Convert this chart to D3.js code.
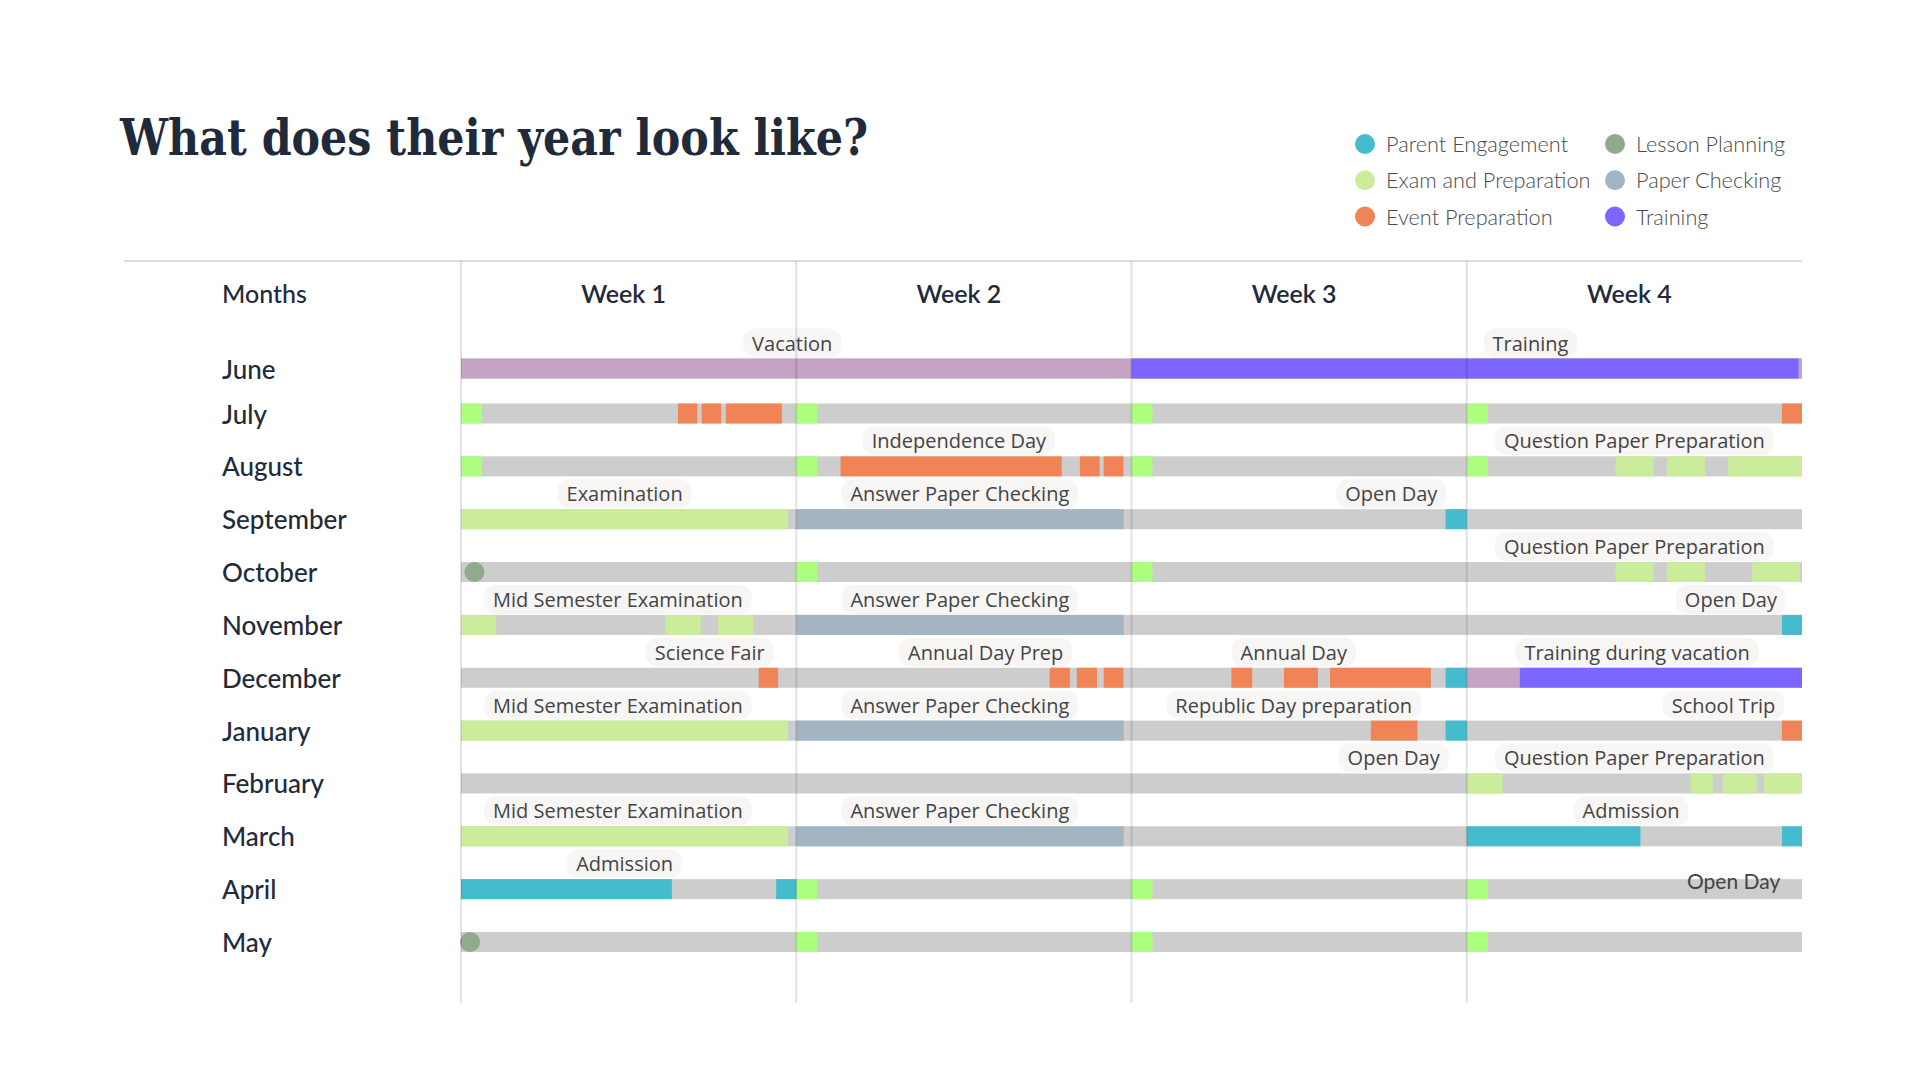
<!DOCTYPE html>
<html>
<head>
<meta charset="utf-8">
<script src="https://cdn.jsdelivr.net/npm/d3@7"></script>
<style>
  html, body { margin: 0; padding: 0; background: #ffffff; }
  svg { display: block; }
</style>
</head>
<body>
<svg id="chart" width="1920" height="1080"></svg>
<script>
// ---------------- DATA ----------------
const months = ["June","July","August","September","October","November","December","January","February","March","April","May"];
const weeks = ["Week 1","Week 2","Week 3","Week 4"];

const legendCol1 = ["Parent Engagement","Exam and Preparation","Event Preparation"];
const legendCol2 = ["Lesson Planning","Paper Checking","Training"];

// segments: [month, startWeek, endWeek]  (week units, 0..4)
const vacationSegs = [["June",0,4],["December",3.0,3.158]];
const trainingSegs = [["June",2.0,3.99],["December",3.158,4.0]];
const weeklySegs = [
  ["July",0,0.0625],["July",1,1.0625],["July",2,2.0625],["July",3,3.0625],
  ["August",0,0.0625],["August",1,1.0625],["August",2,2.0625],["August",3,3.0625],
  ["October",1,1.0625],["October",2,2.0625],
  ["April",1,1.0625],["April",2,2.0625],["April",3,3.0625],
  ["May",1,1.0625],["May",2,2.0625],["May",3,3.0625]
];
const eventSegs = [
  ["July",0.647,0.705],["July",0.718,0.776],["July",0.790,0.957],["July",3.94,4.0],
  ["August",1.132,1.792],["August",1.846,1.905],["August",1.917,1.976],
  ["December",0.888,0.946],["December",1.756,1.816],["December",1.837,1.897],["December",1.917,1.976],
  ["December",2.298,2.360],["December",2.455,2.556],["December",2.592,2.893],
  ["January",2.714,2.853],["January",3.94,4.0]
];
const examSegs = [
  ["August",3.444,3.558],["August",3.597,3.711],["August",3.78,4.0],
  ["September",0,0.975],
  ["October",3.444,3.558],["October",3.597,3.711],["October",3.852,3.993],
  ["November",0,0.105],["November",0.609,0.715],["November",0.767,0.872],
  ["January",0,0.975],
  ["February",3.0,3.107],["February",3.668,3.734],["February",3.763,3.865],["February",3.886,4.0],
  ["March",0,0.975]
];
const paperSegs = [["September",1.0,1.977],["November",1.0,1.977],["January",1.0,1.977],["March",1.0,1.977]];
const parentSegs = [
  ["September",2.937,3.0],["November",3.94,4.0],["December",2.937,3.0],["January",2.937,3.0],
  ["March",3.0,3.518],["March",3.94,4.0],
  ["April",0,0.629],["April",0.940,1.0]
];
const lessonPoints = [["October",0.04],["May",0.027]];

// pill labels: [month, text, centerWeek]
const pillLabels = [
  ["June","Vacation",0.988],["June","Training",3.19],
  ["August","Independence Day",1.485],["August","Question Paper Preparation",3.50],
  ["September","Examination",0.488],["September","Answer Paper Checking",1.488],["September","Open Day",2.775],
  ["October","Question Paper Preparation",3.50],
  ["November","Mid Semester Examination",0.468],["November","Answer Paper Checking",1.488],["November","Open Day",3.788],
  ["December","Science Fair",0.742],["December","Annual Day Prep",1.565],["December","Annual Day",2.484],["December","Training during vacation",3.508],
  ["January","Mid Semester Examination",0.468],["January","Answer Paper Checking",1.488],["January","Republic Day preparation",2.484],["January","School Trip",3.766],
  ["February","Open Day",2.782],["February","Question Paper Preparation",3.50],
  ["March","Mid Semester Examination",0.468],["March","Answer Paper Checking",1.488],["March","Admission",3.49],
  ["April","Admission",0.488]
];
const plainLabels = [["April","Open Day",3.796]];

// ---------------- STYLE ----------------
const colors = {
  base: "#cdcdcd",
  vacation: "#c4a3c4",
  training: "#7b66ff",
  weekly: "#adff80",
  event: "#f08456",
  exam: "#cbed9b",
  paper: "#a3b5c3",
  parent: "#45bccd",
  lesson: "#8fab8b"
};
const legendColors = {
  "Parent Engagement": colors.parent,
  "Exam and Preparation": colors.exam,
  "Event Preparation": colors.event,
  "Lesson Planning": colors.lesson,
  "Paper Checking": colors.paper,
  "Training": colors.training
};
const dark = "#1f2a3a";

// ---------------- SCALES ----------------
const svg = d3.select("#chart");
const x = d3.scaleLinear().domain([0, 4]).range([461, 1802]);
// first row sits a little closer to the second one
const yIdx = d3.scaleLinear().domain([0, 1, months.length - 1]).range([368.5, 413.5, 942]);
const y = m => yIdx(months.indexOf(m));
const barH = 20;

// ---------------- TITLE ----------------
svg.append("text")
  .attr("x", 120).attr("y", 155)
  .attr("font-family", "'DejaVu Serif', serif")
  .attr("font-weight", "bold")
  .attr("font-size", 50)
  .attr("fill", dark)
  .attr("textLength", 748)
  .attr("lengthAdjust", "spacingAndGlyphs")
  .text("What does their year look like?");

// ---------------- LEGEND ----------------
function legendColumn(items, cx, tx) {
  const g = svg.append("g");
  const ly = d3.scalePoint().domain(items).range([144, 216.5]);
  g.selectAll("circle").data(items).join("circle")
    .attr("cx", cx).attr("cy", d => ly(d)).attr("r", 10)
    .attr("fill", d => legendColors[d]);
  g.selectAll("text").data(items).join("text")
    .attr("x", tx).attr("y", d => ly(d))
    .attr("dominant-baseline", "central")
    .attr("font-family", "Lato, sans-serif")
    .attr("font-weight", 300)
    .attr("font-size", 21.7)
    .attr("fill", "#4a4a4a")
    .text(d => d);
}
legendColumn(legendCol1, 1365, 1386);
legendColumn(legendCol2, 1615, 1636);

// ---------------- HEADER ----------------
svg.append("line")
  .attr("x1", 124).attr("x2", 1802).attr("y1", 261).attr("y2", 261)
  .attr("stroke", "#dddddd").attr("stroke-width", 2);

svg.append("text")
  .attr("x", 222).attr("y", 293)
  .attr("dominant-baseline", "central")
  .attr("font-family", "Lato, sans-serif").attr("font-weight", 500)
  .attr("font-size", 25).attr("fill", dark)
  .text("Months");

svg.selectAll("text.week").data(weeks).join("text")
  .attr("class", "week")
  .attr("x", (d, i) => x(i + 0.5) - 5).attr("y", 293)
  .attr("text-anchor", "middle")
  .attr("dominant-baseline", "central")
  .attr("font-family", "Lato, sans-serif").attr("font-weight", 600)
  .attr("font-size", 25).attr("fill", dark)
  .text(d => d);

// ---------------- MONTH LABELS ----------------
svg.selectAll("text.month").data(months).join("text")
  .attr("class", "month")
  .attr("x", 222).attr("y", d => y(d))
  .attr("dominant-baseline", "central")
  .attr("font-family", "Lato, sans-serif").attr("font-weight", 500)
  .attr("font-size", 26).attr("fill", dark)
  .text(d => d);

// ---------------- BARS ----------------
const barsG = svg.append("g");
barsG.selectAll("rect.base").data(months).join("rect")
  .attr("class", "base")
  .attr("x", x(0)).attr("width", x(4) - x(0))
  .attr("y", d => y(d) - barH / 2).attr("height", barH)
  .attr("fill", colors.base);

function drawSegs(data, color) {
  barsG.append("g").selectAll("rect").data(data).join("rect")
    .attr("x", d => x(d[1]))
    .attr("width", d => x(d[2]) - x(d[1]))
    .attr("y", d => y(d[0]) - barH / 2)
    .attr("height", barH)
    .attr("fill", color);
}
drawSegs(vacationSegs, colors.vacation);
drawSegs(trainingSegs, colors.training);
drawSegs(weeklySegs, colors.weekly);
drawSegs(eventSegs, colors.event);
drawSegs(examSegs, colors.exam);
drawSegs(paperSegs, colors.paper);
drawSegs(parentSegs, colors.parent);

barsG.append("g").selectAll("circle").data(lessonPoints).join("circle")
  .attr("cx", d => x(d[1])).attr("cy", d => y(d[0])).attr("r", 10)
  .attr("fill", colors.lesson);

// ---------------- PILL LABELS ----------------
const pillG = svg.append("g");
pillLabels.forEach(d => {
  const g = pillG.append("g");
  const cy = y(d[0]) - 25.5;
  const t = g.append("text")
    .attr("x", x(d[2])).attr("y", cy)
    .attr("text-anchor", "middle")
    .attr("dominant-baseline", "central")
    .attr("font-family", "'Open Sans', sans-serif")
    .attr("font-size", 20)
    .attr("fill", "#444")
    .text(d[1]);
  const w = t.node().getComputedTextLength();
  g.insert("rect", "text")
    .attr("x", x(d[2]) - w / 2 - 9).attr("width", w + 18)
    .attr("y", cy - 14.5).attr("height", 29)
    .attr("rx", 12).attr("ry", 12)
    .attr("fill", "#f7f6f4");
});

// ---------------- WEEK GRID LINES ----------------
svg.selectAll("line.grid").data(d3.range(0, 4)).join("line")
  .attr("class", "grid")
  .attr("x1", d => x(d)).attr("x2", d => x(d))
  .attr("y1", 261).attr("y2", 1003)
  .attr("stroke", "rgba(0,0,0,0.11)").attr("stroke-width", 2);

// ---------------- PLAIN LABELS ----------------
svg.selectAll("text.plain").data(plainLabels).join("text")
  .attr("class", "plain")
  .attr("x", d => x(d[2])).attr("y", d => y(d[0]))
  .attr("text-anchor", "middle")
  .attr("font-family", "Lato, sans-serif").attr("font-weight", 400)
  .attr("font-size", 21).attr("fill", "#444")
  .text(d => d[1]);
</script>
</body>
</html>
